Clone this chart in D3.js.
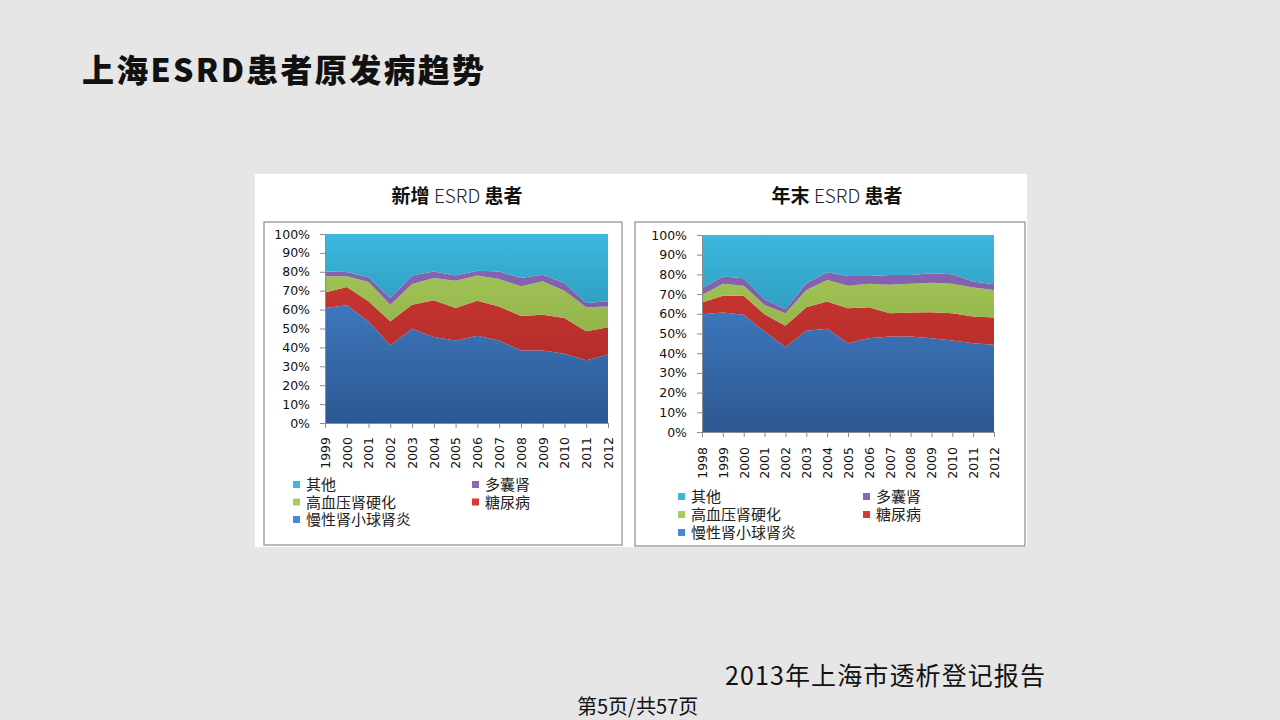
<!DOCTYPE html>
<html><head><meta charset="utf-8">
<script src="https://cdn.jsdelivr.net/npm/d3@7"></script>
<style>
html,body{margin:0;padding:0;background:#e6e6e6;}
svg{display:block;}
</style></head>
<body>
<svg id="c" width="1280" height="720"></svg>
<script>
// ---- data (percent shares) ----
const yearsNew = ['1999','2000','2001','2002','2003','2004','2005','2006','2007','2008','2009','2010','2011','2012'];
const yearsEnd = ['1998','1999','2000','2001','2002','2003','2004','2005','2006','2007','2008','2009','2010','2011','2012'];
const seriesKeys = ['gn','dm','ht','pkd','other'];
const seriesNames = ['慢性肾小球肾炎','糖尿病','高血压肾硬化','多囊肾','其他'];
const seriesColors = [['#4789d6','#2c5891'],['#d63a34','#a02726'],['#a8cb5c','#7f9f3c'],['#8a68b6','#6c4d93'],['#3cb8de','#1c7590']];

const newGN    = [60.8,62.3,53.8,41.1,49.9,45.5,43.7,46.2,43.6,38.4,38.3,36.7,33.2,36.2];
const newDM    = [8.3,9.7,10.6,12.7,12.7,19.4,17.1,18.5,18.1,18.2,19.0,18.9,15.3,14.4];
const newHT    = [8.5,5.6,10.2,8.8,10.9,11.8,14.5,13.4,14.5,15.7,17.7,14.4,12.7,11.1];
const newPKD   = [2.6,2.3,2.5,3.5,4.5,3.5,2.8,2.5,4.0,4.4,3.5,4.1,2.3,2.7];
const newOther = [19.8,20.1,22.9,33.9,22.0,19.8,21.9,19.4,19.8,23.3,21.5,25.9,36.5,35.6];

const endGN    = [59.8,60.6,59.5,51.0,43.2,51.4,52.4,45.1,47.6,48.5,48.5,47.6,46.5,45.1,44.3];
const endDM    = [5.9,8.5,9.6,8.8,10.7,11.9,13.8,17.7,15.7,11.8,12.1,13.2,13.8,13.5,13.8];
const endHT    = [3.9,6.1,5.1,4.7,6.4,8.8,11.0,11.4,11.9,14.4,14.6,15.0,14.9,14.7,14.0];
const endPKD   = [3.4,3.7,3.8,2.9,2.0,3.4,3.9,5.0,4.0,5.0,4.5,4.8,4.9,3.1,2.9];
const endOther = [27.0,21.1,22.0,32.6,37.7,24.5,18.9,20.8,20.8,20.3,20.3,19.4,19.9,23.6,25.0];

const yTicks = [0,10,20,30,40,50,60,70,80,90,100];
const legendOrder = [4,3,2,1,0];

const svg = d3.select('#c');
const cjk = '"Noto Sans CJK SC","Noto Sans",sans-serif';
const legFont = '"Liberation Sans","Noto Sans CJK SC",sans-serif';

// page title
svg.append('text').attr('x',82).attr('y',82).attr('font-family',cjk).attr('font-weight','900')
  .attr('font-size',32).attr('fill','#111').attr('textLength',402).attr('lengthAdjust','spacing')
  .text('上海ESRD患者原发病趋势');

// white panel
svg.append('rect').attr('x',255).attr('y',174).attr('width',772).attr('height',373).attr('fill','#fff');

const defs = svg.append('defs');

function drawChart(cfg){
  const {id, years, cols, title, titleX, box, plot, legend, xLabGap} = cfg;
  const rows = years.map((y,i)=>{const o={year:y}; seriesKeys.forEach((k,j)=>o[k]=cols[j][i]); return o;});
  const stack = d3.stack().keys(seriesKeys)(rows);
  const x = d3.scalePoint().domain(years).range([plot.x0, plot.x1]).padding(0);
  const y = d3.scaleLinear().domain([0,100]).range([plot.y1, plot.y0]);

  // title
  const t = svg.append('text').attr('x',titleX).attr('y',box.y-19).attr('text-anchor','middle')
    .attr('font-family',cjk).attr('font-size',19).attr('fill','#111');
  const parts = title.split(' ');
  t.append('tspan').attr('font-weight','bold').text(parts[0]+' ');
  t.append('tspan').attr('font-weight','300').attr('fill','#222').text(parts[1]+' ');
  t.append('tspan').attr('font-weight','bold').text(parts[2]);

  // border
  svg.append('rect').attr('x',box.x).attr('y',box.y).attr('width',box.w).attr('height',box.h)
    .attr('fill','#fff').attr('stroke','#8c8c8c').attr('stroke-width',1.2);

  // gradients
  seriesColors.forEach((c,j)=>{
    const g = defs.append('linearGradient').attr('id',id+'g'+j).attr('gradientUnits','userSpaceOnUse')
      .attr('x1',0).attr('x2',0).attr('y1',plot.y0).attr('y2',plot.y1);
    g.append('stop').attr('offset','0%').attr('stop-color',c[0]);
    g.append('stop').attr('offset','100%').attr('stop-color',c[1]);
  });

  const area = d3.area().x(d=>x(d.data.year)).y0(d=>y(d[0])).y1(d=>y(d[1]));
  svg.append('g').selectAll('path').data(stack).join('path')
    .attr('d',area).attr('fill',(d,j)=>`url(#${id}g${j})`);

  // y axis
  const ya = svg.append('g').attr('transform',`translate(${plot.x0},0)`)
    .call(d3.axisLeft(y).tickValues(yTicks).tickFormat(d=>d+'%').tickSize(5).tickSizeOuter(0));
  ya.select('.domain').attr('stroke','#8c8c8c');
  ya.selectAll('.tick line').attr('stroke','#8c8c8c');
  ya.selectAll('.tick text').attr('font-family','"DejaVu Sans",sans-serif').attr('font-size',12.5).attr('fill','#111').attr('x',-15);

  // x axis
  const xa = svg.append('g').attr('transform',`translate(0,${plot.y1})`)
    .call(d3.axisBottom(x).tickSize(5).tickSizeOuter(0));
  xa.select('.domain').attr('stroke','#8c8c8c');
  xa.selectAll('.tick line').attr('stroke','#8c8c8c');
  xa.selectAll('.tick text').attr('font-family','"DejaVu Sans",sans-serif').attr('font-size',12.5).attr('fill','#111')
    .attr('transform','rotate(-90)').attr('text-anchor','end').attr('x',-xLabGap).attr('y',0).attr('dy','0.35em');

  // legend
  legendOrder.forEach((j,i)=>{
    const col = i%2, row = Math.floor(i/2);
    const lx = legend.x + col*legend.dx, ly = legend.y + row*legend.dy;
    svg.append('rect').attr('x',lx).attr('y',ly-4).attr('width',7).attr('height',7)
      .attr('fill',seriesColors[j][0]);
    svg.append('text').attr('x',lx+13).attr('y',ly).attr('dy','0.36em')
      .attr('font-family',legFont).attr('font-size',15).attr('fill','#222').text(seriesNames[j]);
  });
}

drawChart({id:'n', years:yearsNew, cols:[newGN,newDM,newHT,newPKD,newOther], title:'新增 ESRD 患者', titleX:457,
  box:{x:264,y:222,w:358,h:323}, plot:{x0:325,x1:608,y0:234,y1:423},
  legend:{x:293,y:485,dx:179,dy:17.5}, xLabGap:14});
drawChart({id:'e', years:yearsEnd, cols:[endGN,endDM,endHT,endPKD,endOther], title:'年末 ESRD 患者', titleX:837,
  box:{x:635,y:222,w:390,h:324}, plot:{x0:702,x1:994,y0:235,y1:432},
  legend:{x:678,y:497,dx:185,dy:18}, xLabGap:15});

// footer
svg.append('text').attr('x',725).attr('y',685).attr('font-family',cjk).attr('font-size',25).attr('fill','#111')
  .attr('textLength',320).attr('lengthAdjust','spacing').text('2013年上海市透析登记报告');
svg.append('text').attr('x',577).attr('y',714).attr('font-family',cjk).attr('font-size',20).attr('fill','#111')
  .text('第5页/共57页');
</script>
</body></html>
